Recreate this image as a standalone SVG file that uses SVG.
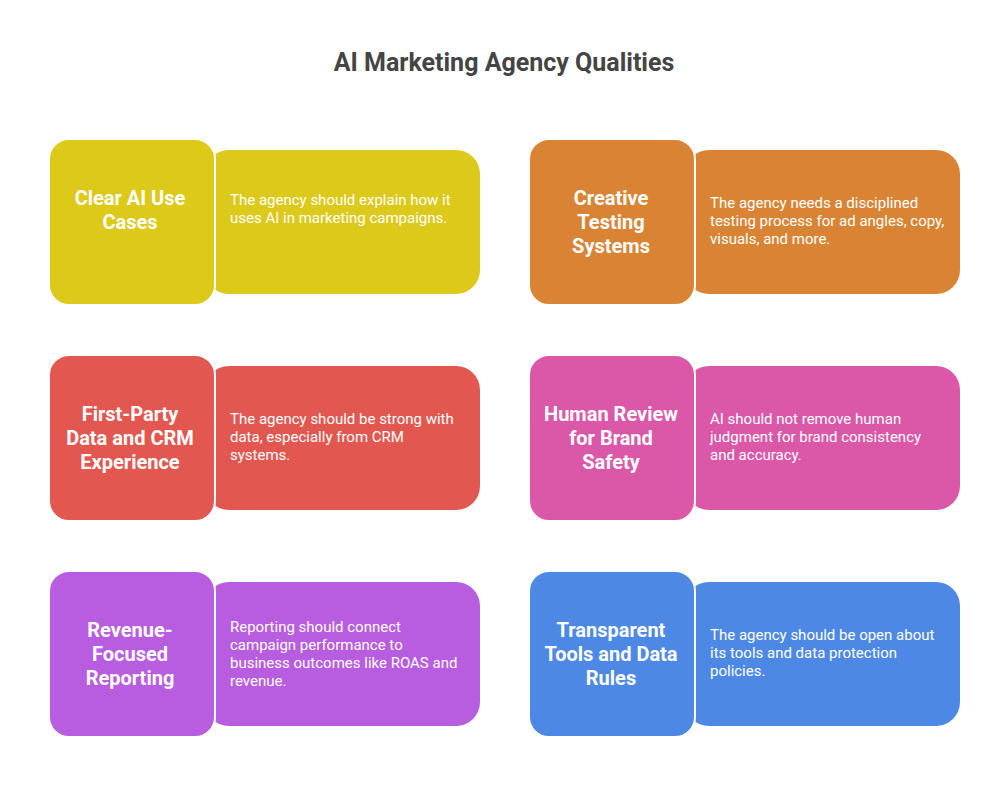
<svg xmlns="http://www.w3.org/2000/svg" width="1008" height="798" viewBox="0 0 1008 798">
<style>
.title{font-family:Roboto,"Liberation Sans",sans-serif;font-weight:700;font-size:25px;fill:#444444;text-anchor:middle}
.h{font-family:Roboto,"Liberation Sans",sans-serif;font-weight:700;font-size:20px;fill:#ffffff;text-anchor:middle}
.d{font-family:Roboto,"Liberation Sans",sans-serif;font-size:15px;fill:#ffffff}
.sq{stroke:#ffffff;stroke-width:2}
</style>
<rect width="1008" height="798" fill="#ffffff"/>
<text class="title" x="504" y="71">AI Marketing Agency Qualities</text>

<g id="clear-ai">
<rect x="205" y="150" width="275" height="144" rx="24" fill="#DCC91A"/>
<rect class="sq" x="49" y="139" width="166" height="166" rx="20" fill="#DCC91A"/>
<text class="h"><tspan x="130" y="205">Clear AI Use</tspan><tspan x="130" y="229">Cases</tspan></text>
<text class="d"><tspan x="230" y="205">The agency should explain how it</tspan><tspan x="230" y="223">uses AI in marketing campaigns.</tspan></text>
</g>

<g id="creative-testing">
<rect x="685" y="150" width="275" height="144" rx="24" fill="#D98434"/>
<rect class="sq" x="529" y="139" width="166" height="166" rx="20" fill="#D98434"/>
<text class="h"><tspan x="611" y="205">Creative</tspan><tspan x="611" y="229">Testing</tspan><tspan x="611" y="253">Systems</tspan></text>
<text class="d"><tspan x="710" y="208">The agency needs a disciplined</tspan><tspan x="710" y="226">testing process for ad angles, copy,</tspan><tspan x="710" y="244">visuals, and more.</tspan></text>
</g>

<g id="first-party">
<rect x="205" y="366" width="275" height="144" rx="24" fill="#E25850"/>
<rect class="sq" x="49" y="355" width="166" height="166" rx="20" fill="#E25850"/>
<text class="h"><tspan x="130" y="421">First-Party</tspan><tspan x="130" y="445">Data and CRM</tspan><tspan x="130" y="469">Experience</tspan></text>
<text class="d"><tspan x="230" y="424">The agency should be strong with</tspan><tspan x="230" y="442">data, especially from CRM</tspan><tspan x="230" y="460">systems.</tspan></text>
</g>

<g id="human-review">
<rect x="685" y="366" width="275" height="144" rx="24" fill="#DB58A8"/>
<rect class="sq" x="529" y="355" width="166" height="166" rx="20" fill="#DB58A8"/>
<text class="h"><tspan x="611" y="421">Human Review</tspan><tspan x="611" y="445">for Brand</tspan><tspan x="611" y="469">Safety</tspan></text>
<text class="d"><tspan x="710" y="424">AI should not remove human</tspan><tspan x="710" y="442">judgment for brand consistency</tspan><tspan x="710" y="460">and accuracy.</tspan></text>
</g>

<g id="revenue-reporting">
<rect x="205" y="582" width="275" height="144" rx="24" fill="#B85CE0"/>
<rect class="sq" x="49" y="571" width="166" height="166" rx="20" fill="#B85CE0"/>
<text class="h"><tspan x="130" y="637">Revenue-</tspan><tspan x="130" y="661">Focused</tspan><tspan x="130" y="685">Reporting</tspan></text>
<text class="d"><tspan x="230" y="632">Reporting should connect</tspan><tspan x="230" y="650">campaign performance to</tspan><tspan x="230" y="668">business outcomes like ROAS and</tspan><tspan x="230" y="686">revenue.</tspan></text>
</g>

<g id="transparent-tools">
<rect x="685" y="582" width="275" height="144" rx="24" fill="#4D89E4"/>
<rect class="sq" x="529" y="571" width="166" height="166" rx="20" fill="#4D89E4"/>
<text class="h"><tspan x="611" y="637">Transparent</tspan><tspan x="611" y="661">Tools and Data</tspan><tspan x="611" y="685">Rules</tspan></text>
<text class="d"><tspan x="710" y="640">The agency should be open about</tspan><tspan x="710" y="658">its tools and data protection</tspan><tspan x="710" y="676">policies.</tspan></text>
</g>

<g id="connectors"></g>
</svg>
